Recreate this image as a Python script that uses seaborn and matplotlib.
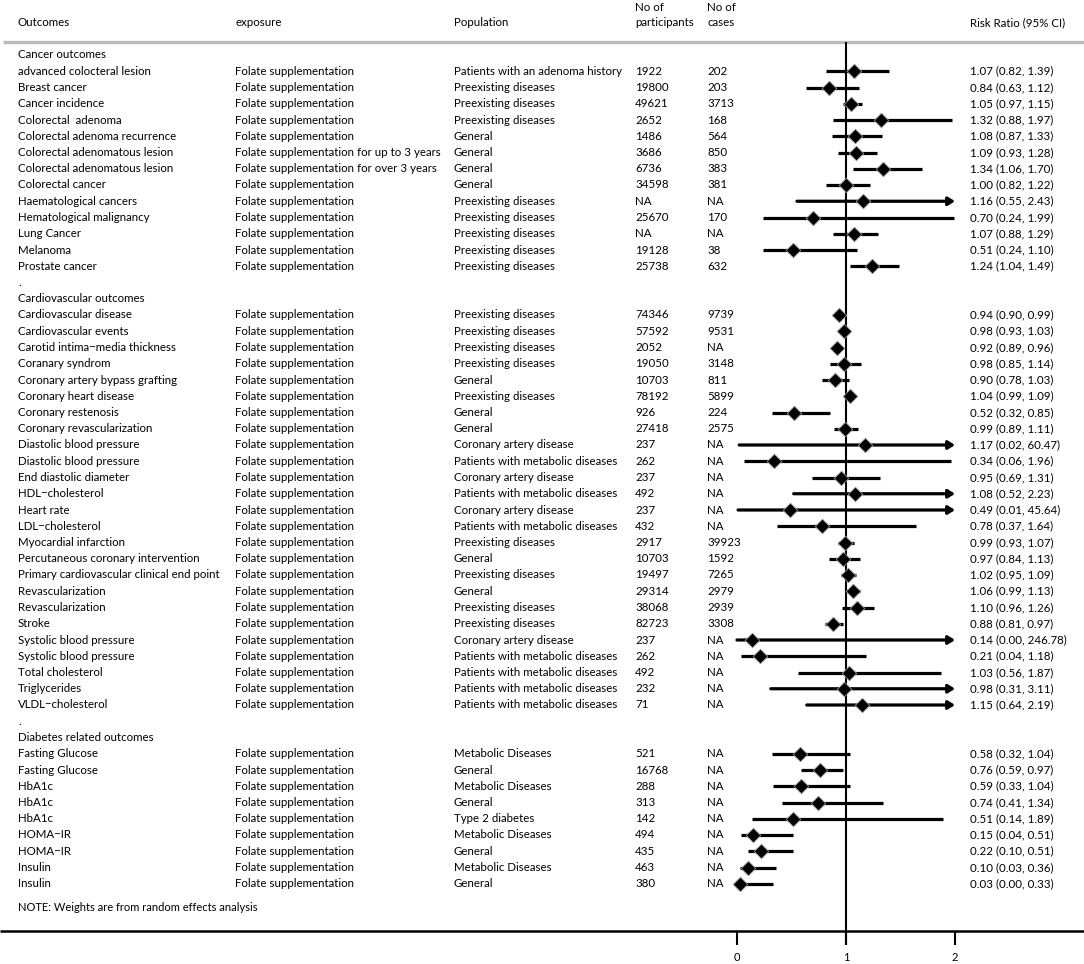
import numpy as np
import pandas as pd
import matplotlib.pyplot as plt
import matplotlib.transforms as mtransforms
import seaborn as sns

# ── Data ──────────────────────────────────────────────────────────────────────
cancer_outcomes = ["advanced colocteral lesion", "Breast cancer", "Cancer incidence",
                   "Colorectal  adenoma", "Colorectal adenoma recurrence",
                   "Colorectal adenomatous lesion", "Colorectal adenomatous lesion",
                   "Colorectal cancer", "Haematological cancers", "Hematological malignancy",
                   "Lung Cancer", "Melanoma", "Prostate cancer"]
cancer_exposure = (["Folate supplementation"] * 5
                   + ["Folate supplementation for up to 3 years",
                      "Folate supplementation for over 3 years"]
                   + ["Folate supplementation"] * 6)
cancer_population = ["Patients with an adenoma history", "Preexisting diseases",
                     "Preexisting diseases", "Preexisting diseases", "General", "General",
                     "General", "General", "Preexisting diseases", "Preexisting diseases",
                     "Preexisting diseases", "Preexisting diseases", "Preexisting diseases"]
cancer_participants = ["1922", "19800", "49621", "2652", "1486", "3686", "6736", "34598",
                       "NA", "25670", "NA", "19128", "25738"]
cancer_cases = ["202", "203", "3713", "168", "564", "850", "383", "381", "NA", "170",
                "NA", "38", "632"]
cancer_rr = [1.07, 0.84, 1.05, 1.32, 1.08, 1.09, 1.34, 1.00, 1.16, 0.70, 1.07, 0.51, 1.24]
cancer_lo = [0.82, 0.63, 0.97, 0.88, 0.87, 0.93, 1.06, 0.82, 0.55, 0.24, 0.88, 0.24, 1.04]
cancer_hi = [1.39, 1.12, 1.15, 1.97, 1.33, 1.28, 1.70, 1.22, 2.43, 1.99, 1.29, 1.10, 1.49]

cv_outcomes = ["Cardiovascular disease", "Cardiovascular events",
               "Carotid intima\u2212media thickness", "Coranary syndrom",
               "Coronary artery bypass grafting", "Coronary heart disease",
               "Coronary restenosis", "Coronary revascularization",
               "Diastolic blood pressure", "Diastolic blood pressure",
               "End diastolic diameter", "HDL\u2212cholesterol", "Heart rate",
               "LDL\u2212cholesterol", "Myocardial infarction",
               "Percutaneous coronary intervention",
               "Primary cardiovascular clinical end point", "Revascularization",
               "Revascularization", "Stroke", "Systolic blood pressure",
               "Systolic blood pressure", "Total cholesterol", "Triglycerides",
               "VLDL\u2212cholesterol"]
cv_exposure = ["Folate supplementation"] * 25
cv_population = ["Preexisting diseases", "Preexisting diseases", "Preexisting diseases",
                 "Preexisting diseases", "General", "Preexisting diseases", "General",
                 "General", "Coronary artery disease", "Patients with metabolic diseases",
                 "Coronary artery disease", "Patients with metabolic diseases",
                 "Coronary artery disease", "Patients with metabolic diseases",
                 "Preexisting diseases", "General", "Preexisting diseases", "General",
                 "Preexisting diseases", "Preexisting diseases", "Coronary artery disease",
                 "Patients with metabolic diseases", "Patients with metabolic diseases",
                 "Patients with metabolic diseases", "Patients with metabolic diseases"]
cv_participants = ["74346", "57592", "2052", "19050", "10703", "78192", "926", "27418",
                   "237", "262", "237", "492", "237", "432", "2917", "10703", "19497",
                   "29314", "38068", "82723", "237", "262", "492", "232", "71"]
cv_cases = ["9739", "9531", "NA", "3148", "811", "5899", "224", "2575", "NA", "NA", "NA",
            "NA", "NA", "NA", "39923", "1592", "7265", "2979", "2939", "3308", "NA", "NA",
            "NA", "NA", "NA"]
cv_rr = [0.94, 0.98, 0.92, 0.98, 0.90, 1.04, 0.52, 0.99, 1.17, 0.34, 0.95, 1.08, 0.49,
         0.78, 0.99, 0.97, 1.02, 1.06, 1.10, 0.88, 0.14, 0.21, 1.03, 0.98, 1.15]
cv_lo = [0.90, 0.93, 0.89, 0.85, 0.78, 0.99, 0.32, 0.89, 0.02, 0.06, 0.69, 0.52, 0.01,
         0.37, 0.93, 0.84, 0.95, 0.99, 0.96, 0.81, 0.00, 0.04, 0.56, 0.31, 0.64]
cv_hi = [0.99, 1.03, 0.96, 1.14, 1.03, 1.09, 0.85, 1.11, 60.47, 1.96, 1.31, 2.23, 45.64,
         1.64, 1.07, 1.13, 1.09, 1.13, 1.26, 0.97, 246.78, 1.18, 1.87, 3.11, 2.19]

db_outcomes = ["Fasting Glucose", "Fasting Glucose", "HbA1c", "HbA1c", "HbA1c",
               "HOMA\u2212IR", "HOMA\u2212IR", "Insulin", "Insulin"]
db_exposure = ["Folate supplementation"] * 9
db_population = ["Metabolic Diseases", "General", "Metabolic Diseases", "General",
                 "Type 2 diabetes", "Metabolic Diseases", "General", "Metabolic Diseases",
                 "General"]
db_participants = ["521", "16768", "288", "313", "142", "494", "435", "463", "380"]
db_cases = ["NA"] * 9
db_rr = [0.58, 0.76, 0.59, 0.74, 0.51, 0.15, 0.22, 0.10, 0.03]
db_lo = [0.32, 0.59, 0.33, 0.41, 0.14, 0.04, 0.10, 0.03, 0.00]
db_hi = [1.04, 0.97, 1.04, 1.34, 1.89, 0.51, 0.51, 0.36, 0.33]

sections = [
    ("Cancer outcomes", cancer_outcomes, cancer_exposure, cancer_population,
     cancer_participants, cancer_cases, cancer_rr, cancer_lo, cancer_hi),
    ("Cardiovascular outcomes", cv_outcomes, cv_exposure, cv_population,
     cv_participants, cv_cases, cv_rr, cv_lo, cv_hi),
    ("Diabetes related outcomes", db_outcomes, db_exposure, db_population,
     db_participants, db_cases, db_rr, db_lo, db_hi),
]

x_ticks = [0, 1, 2]
x_max = 2

# ── Build the row table (headings, rows and "." spacers) ──────────────────────
rows = []
for i, (title, outc, expo, pop, part, cases, rr, lo, hi) in enumerate(sections):
    if i > 0:
        rows.append(dict(kind="spacer", outcome="."))
    rows.append(dict(kind="heading", outcome=title))
    for k in range(len(outc)):
        rows.append(dict(kind="study", outcome=outc[k], exposure=expo[k],
                         population=pop[k], participants=part[k], cases=cases[k],
                         rr=rr[k], lo=lo[k], hi=hi[k]))
df = pd.DataFrame(rows)
df["y"] = np.arange(len(df))
studies = df[df["kind"] == "study"].copy()
studies["label"] = studies.apply(
    lambda r: f"{r.rr:.2f} ({r.lo:.2f}, {r.hi:.2f})", axis=1)

# ── Figure ────────────────────────────────────────────────────────────────────
sns.set_theme(style="white")
plt.rcParams["font.family"] = ["Lato", "DejaVu Sans"]
plt.rcParams["text.color"] = "black"

W, H, DPI = 1084, 964, 100
fig = plt.figure(figsize=(W / DPI, H / DPI), dpi=DPI)
ax = fig.add_axes([0, 0, 1, 1])
ax.set_axis_off()

# pixel layout: RR 0 -> 737 px, RR 2 -> 955 px ; row 0 at 55 px, 16.25 px per row
px_per_unit = 109.0
x0_px = 737.0
ax.set_xlim(-x0_px / px_per_unit, (W - x0_px) / px_per_unit)
row_px, row0_px = 16.25, 55.0
ax.set_ylim((H - row0_px) / row_px, -row0_px / row_px)

tr = mtransforms.blended_transform_factory(ax.transAxes, ax.transData)
col_x = {"outcome": 18, "exposure": 235, "population": 454,
         "participants": 635, "cases": 707, "label": 970}
fs = 8.3

def px(x):
    return x / W

# headers
ax.text(px(col_x["outcome"]), -1.97, "Outcomes", transform=tr, va="center", fontsize=fs)
ax.text(px(col_x["exposure"]), -1.97, "exposure", transform=tr, va="center", fontsize=fs)
ax.text(px(col_x["population"]), -1.97, "Population", transform=tr, va="center", fontsize=fs)
ax.text(px(col_x["participants"]), -2.95, "No of", transform=tr, va="center", fontsize=fs)
ax.text(px(col_x["participants"]), -1.97, "participants", transform=tr, va="center", fontsize=fs)
ax.text(px(col_x["cases"]), -2.95, "No of", transform=tr, va="center", fontsize=fs)
ax.text(px(col_x["cases"]), -1.97, "cases", transform=tr, va="center", fontsize=fs)
ax.text(px(col_x["label"]), -1.97, "Risk Ratio (95% CI)", transform=tr, va="center", fontsize=fs)

# top separator
ax.plot([px(3), 1], [-0.8, -0.8], transform=tr, color="#bbbbbb", lw=2.4,
        solid_capstyle="butt")

# table text
for _, r in df.iterrows():
    ax.text(px(col_x["outcome"]), r.y, r.outcome, transform=tr, va="center", fontsize=fs)
    if r.kind == "study":
        for col in ["exposure", "population", "participants", "cases"]:
            ax.text(px(col_x[col]), r.y, r[col], transform=tr, va="center", fontsize=fs)
for _, r in studies.iterrows():
    ax.text(px(col_x["label"]), r.y, r.label, transform=tr, va="center", fontsize=fs)

n_rows = len(df)
y_note = n_rows + 0.45
y_axis = n_rows + 1.9
y_tick = y_axis + 0.87

ax.text(px(col_x["outcome"]), y_note, "NOTE: Weights are from random effects analysis",
        transform=tr, va="center", fontsize=fs - 0.3)

# reference line at 1
ax.vlines(1, -0.8, y_tick, color="black", lw=1.5)

# confidence intervals
inside = studies[studies["hi"] <= x_max]
outside = studies[studies["hi"] > x_max]
ax.hlines(inside["y"], inside["lo"], inside["hi"], color="black", lw=2.3)
for _, r in outside.iterrows():
    ax.annotate("", xy=(x_max, r.y), xytext=(r.lo, r.y),
                arrowprops=dict(arrowstyle="-|>,head_length=0.32,head_width=0.2",
                                color="black", lw=2.3, shrinkA=0, shrinkB=0))

# point estimates
sns.scatterplot(data=studies, x="rr", y="y", marker="D", s=55, color="black",
                edgecolor="#999999", linewidth=0.6, ax=ax, zorder=5, legend=False)

# bottom axis
ax.plot([0, 1], [y_axis, y_axis], transform=tr, color="black", lw=1.8,
        solid_capstyle="butt")
ax.vlines(x_ticks, y_axis, y_tick, color="black", lw=1.5)
for t in x_ticks:
    ax.text(t, y_tick + 0.75, str(t), ha="center", va="center", fontsize=fs - 0.3)

ax.set_xlabel("")
ax.set_ylabel("")
fig.savefig("out.png", dpi=DPI)
